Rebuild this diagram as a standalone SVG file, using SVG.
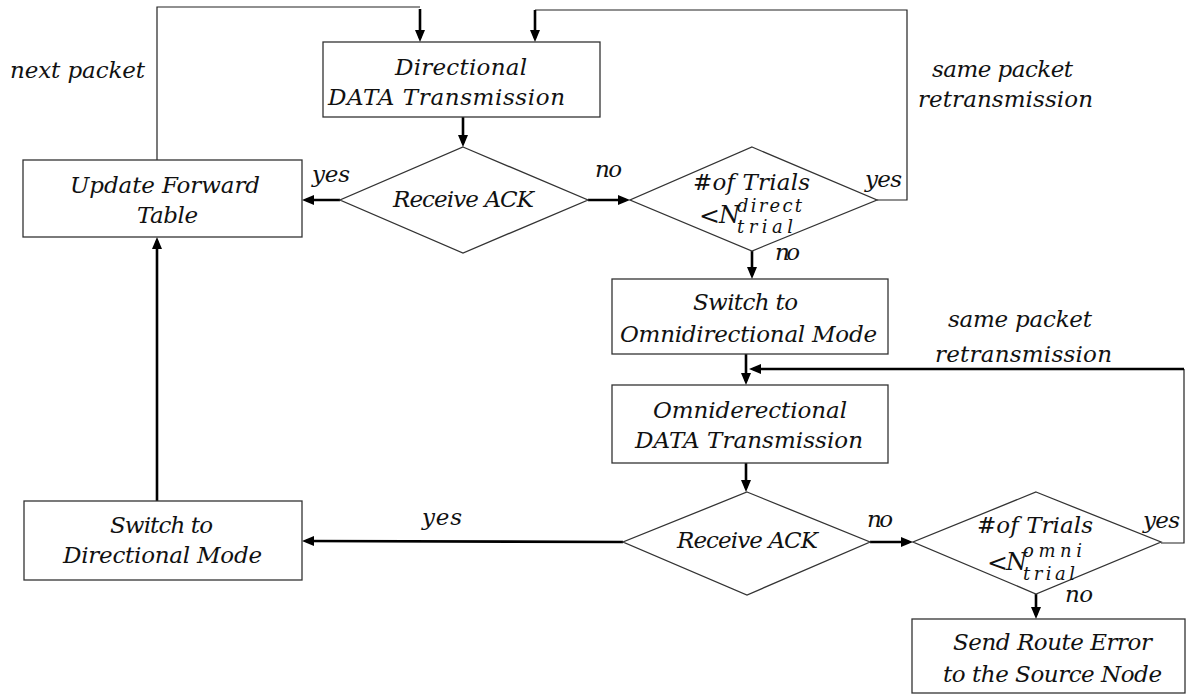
<svg xmlns="http://www.w3.org/2000/svg" width="1186" height="695" viewBox="0 0 1186 695">
<style>
.t{font-family:"DejaVu Serif",serif;font-style:italic;font-size:23px;fill:#111}
.s{font-family:"DejaVu Serif",serif;font-style:italic;font-size:18px;fill:#111}
.m{font-family:"DejaVu Serif",serif;font-style:italic;font-size:24px;fill:#111}
.lt{font-family:"DejaVu Serif",serif;font-size:25px;fill:#111}
.box{fill:#fff;stroke:#333;stroke-width:1.3}
.thin{fill:none;stroke:#222;stroke-width:1.2}
.arr{fill:none;stroke:#000;stroke-width:2.6;marker-end:url(#ah)}
</style>
<defs>
<marker id="ah" viewBox="0 0 12 10" refX="8" refY="5" markerWidth="12" markerHeight="10" markerUnits="userSpaceOnUse" orient="auto">
<path d="M0,0 L12,5 L0,10 z" fill="#000"/>
</marker>
</defs>
<rect width="1186" height="695" fill="#fff"/>

<g id="connectors">
<polyline class="thin" points="157,160 157,7 420,7"/>
<line class="arr" x1="420" y1="9" x2="420" y2="38"/>
<polyline class="thin" points="877,200 907,200 907,10 535,10"/>
<line class="arr" x1="535" y1="10" x2="535" y2="38"/>
<line class="arr" x1="463" y1="117" x2="463" y2="143"/>
<line class="arr" x1="340" y1="200" x2="306" y2="200"/>
<line class="arr" x1="588" y1="200" x2="626" y2="200"/>
<line class="arr" x1="752" y1="251" x2="752" y2="275"/>
<line class="arr" x1="746" y1="354" x2="746" y2="381"/>
<polyline class="thin" points="1161,543 1184,543 1184,369"/>
<line class="arr" x1="1184" y1="369" x2="753" y2="369"/>
<line class="arr" x1="746" y1="463" x2="746" y2="488"/>
<line class="arr" x1="623" y1="542" x2="306" y2="541"/>
<line class="arr" x1="870" y1="542" x2="909" y2="542"/>
<line class="arr" x1="1036" y1="594" x2="1036" y2="615"/>
<line class="arr" x1="157" y1="501" x2="157" y2="241"/>
</g>

<g id="edge-labels">
<text class="t" x="10" y="78" textLength="135" lengthAdjust="spacing">next packet</text>
<text class="t" x="932" y="77" textLength="141" lengthAdjust="spacing">same packet</text>
<text class="t" x="918" y="107" textLength="175" lengthAdjust="spacing">retransmission</text>
<text class="t" x="312" y="182" textLength="38" lengthAdjust="spacing">yes</text>
<text class="t" x="595" y="177" textLength="27" lengthAdjust="spacing">no</text>
<text class="t" x="865" y="187" textLength="37" lengthAdjust="spacing">yes</text>
<text class="t" x="775" y="260" textLength="25" lengthAdjust="spacing">no</text>
<text class="t" x="948" y="327" textLength="144" lengthAdjust="spacing">same packet</text>
<text class="t" x="935" y="362" textLength="177" lengthAdjust="spacing">retransmission</text>
<text class="t" x="422" y="525" textLength="40" lengthAdjust="spacing">yes</text>
<text class="t" x="867" y="527" textLength="26" lengthAdjust="spacing">no</text>
<text class="t" x="1143" y="528" textLength="37" lengthAdjust="spacing">yes</text>
<text class="t" x="1065" y="602" textLength="28" lengthAdjust="spacing">no</text>
</g>

<g id="dir-tx">
<rect class="box" x="323" y="42" width="277" height="75"/>
<text class="t" x="395" y="75" textLength="132" lengthAdjust="spacing">Directional</text>
<text class="t" x="328" y="105" textLength="237" lengthAdjust="spacing">DATA Transmission</text>
</g>

<g id="ack1">
<polygon class="box" points="463,147 588,200 463,253 340,200"/>
<text class="t" x="393" y="207" textLength="141" lengthAdjust="spacing">Receive ACK</text>
</g>

<g id="trials1">
<polygon class="box" points="752,147 877,200 752,251 630,200"/>
<text class="t" x="693" y="190" textLength="117" lengthAdjust="spacing">#of Trials</text>
<text class="lt" x="699" y="224">&lt;</text>
<text class="m" x="719" y="223">N</text>
<text class="s" x="737" y="212" textLength="65" lengthAdjust="spacing">direct</text>
<text class="s" x="737" y="233" textLength="56" lengthAdjust="spacing">trial</text>
</g>

<g id="update-table">
<rect class="box" x="23" y="160" width="279" height="77"/>
<text class="t" x="70" y="193" textLength="190" lengthAdjust="spacing">Update Forward</text>
<text class="t" x="137" y="223" textLength="61" lengthAdjust="spacing">Table</text>
</g>

<g id="switch-omni">
<rect class="box" x="612" y="279" width="276" height="75"/>
<text class="t" x="693" y="310" textLength="105" lengthAdjust="spacing">Switch to</text>
<text class="t" x="620" y="342" textLength="257" lengthAdjust="spacing">Omnidirectional Mode</text>
</g>

<g id="omni-tx">
<rect class="box" x="612" y="385" width="276" height="78"/>
<text class="t" x="653" y="418" textLength="194" lengthAdjust="spacing">Omniderectional</text>
<text class="t" x="635" y="448" textLength="228" lengthAdjust="spacing">DATA Transmission</text>
</g>

<g id="ack2">
<polygon class="box" points="747,492 870,542 747,595 623,542"/>
<text class="t" x="677" y="548" textLength="141" lengthAdjust="spacing">Receive ACK</text>
</g>

<g id="trials2">
<polygon class="box" points="1036,492 1161,542 1036,594 913,542"/>
<text class="t" x="977" y="533" textLength="116" lengthAdjust="spacing">#of Trials</text>
<text class="lt" x="987" y="571">&lt;</text>
<text class="m" x="1006" y="570">N</text>
<text class="s" x="1023" y="557" textLength="59" lengthAdjust="spacing">omni</text>
<text class="s" x="1023" y="580" textLength="52" lengthAdjust="spacing">trial</text>
</g>

<g id="switch-dir">
<rect class="box" x="24" y="501" width="278" height="79"/>
<text class="t" x="110" y="533" textLength="103" lengthAdjust="spacing">Switch to</text>
<text class="t" x="63" y="563" textLength="199" lengthAdjust="spacing">Directional Mode</text>
</g>

<g id="route-error">
<rect class="box" x="912" y="619" width="273" height="74"/>
<text class="t" x="953" y="650" textLength="199" lengthAdjust="spacing">Send Route Error</text>
<text class="t" x="943" y="682" textLength="219" lengthAdjust="spacing">to the Source Node</text>
</g>
</svg>
